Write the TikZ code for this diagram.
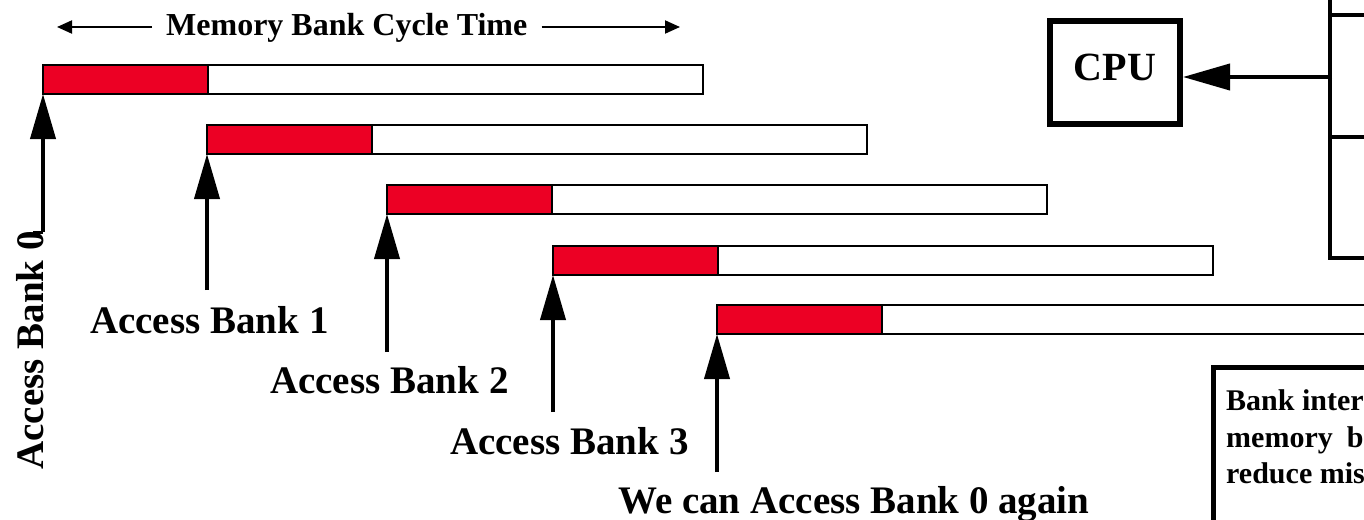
\documentclass[tikz,border=0pt]{standalone}
\usepackage{fontspec}
\setmainfont{Liberation Serif}
\usetikzlibrary{arrows.meta}
\definecolor{busyred}{RGB}{236,0,36}
\tikzset{
  bar/.style={draw=black, line width=1.5pt, fill=white, minimum width=660pt,
    minimum height=29pt, inner sep=0pt, outer sep=0pt, anchor=north west},
  busy/.style={draw=black, line width=1.5pt, fill=busyred, minimum width=165pt,
    minimum height=29pt, inner sep=0pt, outer sep=0pt, anchor=north west},
  access/.style={line width=4pt, -{Triangle[length=45pt,width=25pt]}},
  lbl/.style={inner sep=0pt, anchor=base west, font=\fontsize{39}{44}\selectfont\bfseries},
  span/.style={line width=2pt, -{Triangle[length=15pt,width=13pt]}},
  thick line/.style={line width=4pt}
}
\begin{document}
\begin{tikzpicture}[x=1pt,y=-1pt]
\useasboundingbox (0,0) rectangle (1364,519);
\clip (0,0) rectangle (1364,519);

% cycle time caption
\node[inner xsep=14pt, inner ysep=0pt, anchor=base west,
      font=\fontsize{32}{36}\selectfont\bfseries] (title) at (152,36) {Memory Bank Cycle Time};
\coordinate (ltip) at (57,27);
\coordinate (rtip) at (680,27);
\draw[span] (title.west |- ltip) -- (ltip);
\draw[span] (title.east |- rtip) -- (rtip);

% one bar per bank access, busy phase in red
\foreach \i/\x/\y in {0/43/65, 1/207/125, 2/387/185, 3/553/246, 4/717/305} {
  \node[bar] (bar\i) at (\x,\y) {};
  \node[busy] (red\i) at (\x,\y) {};
}

% access arrows
\coordinate (f0) at (43,232);
\coordinate (t0) at (33,232);
\draw[line width=3pt] (t0) -- (f0);
\draw[access] (f0) -- (bar0.south west);
\coordinate (f1) at (207,290);
\draw[access] (f1) -- (bar1.south west);
\coordinate (f2) at (387,352);
\draw[access] (f2) -- (bar2.south west);
\coordinate (f3) at (553,412);
\draw[access] (f3) -- (bar3.south west);
\coordinate (f4) at (717,472);
\draw[access] (f4) -- (bar4.south west);

% labels
\node[lbl, rotate=90, anchor=base east] (l0) at (43.5,231) {Access Bank 0};
\node[lbl] (l1) at (90,333) {Access Bank 1};
\node[lbl] (l2) at (270,393) {Access Bank 2};
\node[lbl] (l3) at (450,454) {Access Bank 3};
\node[lbl] (l4) at (618,513) {We can Access Bank 0 again};

% CPU and memory banks
\node[draw, line width=6pt, minimum width=130pt, minimum height=103pt,
      inner sep=0pt, text height=27pt, text depth=12pt,
      font=\fontsize{40}{44}\selectfont\bfseries] (cpu) at (1115,72.5) {CPU};
\coordinate (mtop) at (1330,-5);
\coordinate (mbot) at (1330,260);
\draw[thick line] (mtop) -- (mbot);
\foreach \j/\yy in {a/15, b/137, c/258} {
  \coordinate (m\j) at (1330,\yy);
  \coordinate (e\j) at (1380,\yy);
  \draw[line width=3.5pt] (m\j) -- (e\j);
}
\coordinate (busjoin) at (1332,77);
\draw[line width=4pt, -{Triangle[length=47pt,width=26pt]}] (busjoin) -- (cpu.east |- busjoin);

% note box
\node[draw, line width=5pt, minimum width=200pt, minimum height=200pt,
      anchor=north west, inner sep=0pt] (note) at (1210.5,364.5) {};
\begin{scope}[every node/.style={inner sep=0pt, anchor=base west,
      font=\fontsize{30}{34}\selectfont\bfseries}]
\node (n1) at (1226,410) {Bank interleaving};
\node (n2) at (1226,447) {memory\hspace{14pt}banks};
\node (n3) at (1226,483) {reduce miss};
\end{scope}
\end{tikzpicture}
\end{document}
